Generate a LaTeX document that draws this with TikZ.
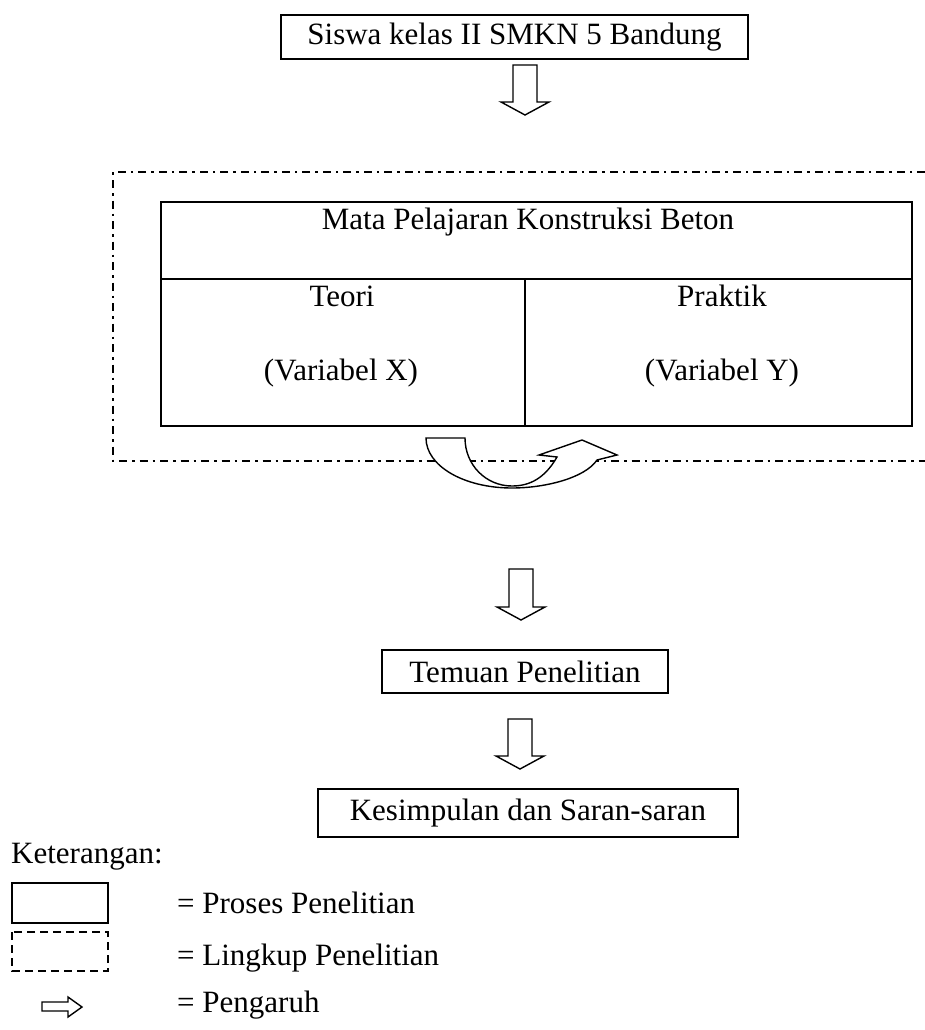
\documentclass[tikz,border=0pt]{standalone}
\usepackage{fontspec}
\setmainfont{Liberation Serif}
\usetikzlibrary{calc}

\begin{document}
\begin{tikzpicture}[x=1pt,y=-1pt,
        font=\fontsize{31}{37}\selectfont,
        kotak/.style={draw,line width=1.5pt,inner sep=0pt},
        lingkup/.style={line width=2pt,dash pattern=on 8pt off 5pt on 2.5pt off 5pt},
        panah/.style={draw,fill=white,line width=1.4pt,to path={
            ($(\tikztostart)+(-12,0)$) -- ($(\tikztotarget)+(-12,-13)$) -- ($(\tikztotarget)+(-24,-13)$)
            -- (\tikztotarget) -- ($(\tikztotarget)+(24,-13)$) -- ($(\tikztotarget)+(12,-13)$)
            -- ($(\tikztostart)+(12,0)$) -- cycle}}]
            \useasboundingbox (0,0) rectangle (925,1030);

            \node[kotak,minimum width=467pt,minimum height=44pt] (siswa) at (514.5,37) {Siswa kelas II SMKN 5 Bandung};
            \coordinate (p1a) at (525,65);
            \coordinate (p1b) at (525,115);
            \draw[panah] (p1a) to (p1b);

            % lingkup penelitian
            \draw[lingkup] (925,172) -- (113,172) -- (113,461) -- (925,461);
            \node[kotak,minimum width=751pt,minimum height=77pt] (mata) at (536.5,240.5) {};
            \node[anchor=base] (judul) at (528,229) {Mata Pelajaran Konstruksi Beton};
            \node[kotak,minimum width=364pt,minimum height=147pt] (teori) at (343,352.5) {};
            \node[kotak,minimum width=387pt,minimum height=147pt] (praktik) at (718.5,352.5) {};
            \node[anchor=base] (tx) at (342,306) {Teori};
            \node[anchor=base] (vx) at (341,380) {(Variabel X)};
            \node[anchor=base] (ty) at (722,306) {Praktik};
            \node[anchor=base] (vy) at (722,380) {(Variabel Y)};

            % pengaruh timbal balik
            \draw[fill=white,line width=1.4pt] (426,438) .. controls (426,466) and (464,488) .. (512,488)
                .. controls (545,488) and (585,478) .. (597,460) -- (617,455) -- (582,440) -- (539,455) -- (557,457)
                .. controls (545,478) and (530,486) .. (512,486) .. controls (486,486) and (465,465) .. (465,438) -- cycle;

            \coordinate (p2a) at (521,569);
            \coordinate (p2b) at (521,620);
            \draw[panah] (p2a) to (p2b);
            \node[kotak,minimum width=286pt,minimum height=43pt] (temuan) at (525,671.5) {Temuan Penelitian};
            \coordinate (p3a) at (520,719);
            \coordinate (p3b) at (520,769);
            \draw[panah] (p3a) to (p3b);
            \node[kotak,minimum width=420pt,minimum height=48pt] (simpul) at (528,813) {Kesimpulan dan Saran-saran};

            % keterangan
            \node[anchor=base west,inner sep=0pt] (ket) at (11,863) {Keterangan:};
            \draw[line width=1.5pt] (12,883) rectangle (108,923);
            \draw[line width=1.5pt,dash pattern=on 8pt off 5pt] (12,932) rectangle (108,971);
            \draw[line width=1.4pt] (42,1002) -- (68,1002) -- (68,997) -- (82,1007) -- (68,1017) -- (68,1011) -- (42,1011) -- cycle;
            \node[anchor=base west,inner sep=0pt] (ket1) at (177,913) {= Proses Penelitian};
            \node[anchor=base west,inner sep=0pt] (ket2) at (177,965) {= Lingkup Penelitian};
            \node[anchor=base west,inner sep=0pt] (ket3) at (177,1012) {= Pengaruh};
        \end{tikzpicture}
\end{document}
